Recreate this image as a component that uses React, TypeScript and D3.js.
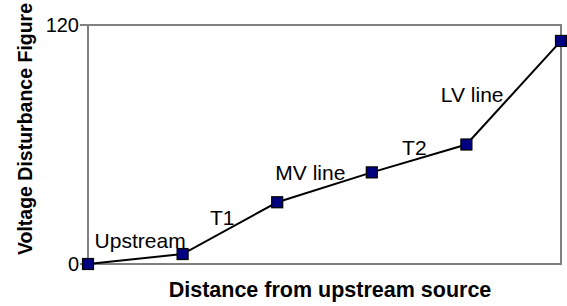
import React from "react";
import * as d3 from "d3";

const categories = ["Source", "Upstream end", "T1 end", "MV end", "T2 end", "LV end"];
const values = [0, 5, 31, 46, 60, 112];
const yTicks = [0, 120];
const segmentLabels = ["Upstream", "T1", "MV line", "T2", "LV line"];
const labelX = [0.07, 1.29, 1.98, 3.32, 3.73];
const labelY = [8, 19.6, 42.2, 54.7, 81.3];

const W = 567;
const H = 306;
const M = { left: 88, right: 6, top: 25, bottom: 42 };

export default function App() {
  const x = d3
    .scaleLinear()
    .domain([0, categories.length - 1])
    .range([M.left, W - M.right]);
  const y = d3.scaleLinear().domain([0, 120]).range([H - M.bottom, M.top]);
  const line = d3
    .line<number>()
    .x((_, i) => x(i))
    .y((d) => y(d));
  const font = "Arial, 'Liberation Sans', sans-serif";
  const sq = 11;
  return (
    <svg
      width={W}
      height={H}
      style={{ position: "absolute", left: 0, top: 0, background: "#fff" }}
      fontFamily={font}
    >
      <rect
        x={x(0)}
        y={y(120)}
        width={x(categories.length - 1) - x(0)}
        height={y(0) - y(120)}
        fill="none"
        stroke="#808080"
        strokeWidth={2}
      />
      {yTicks.map((t) => (
        <g key={t}>
          <line x1={x(0) - 8} x2={x(0)} y1={y(t)} y2={y(t)} stroke="#808080" strokeWidth={2} />
          <text x={x(0) - 9} y={y(t)} dy="0.36em" textAnchor="end" fontSize={20} fill="#000">
            {t}
          </text>
        </g>
      ))}
      <path d={line(values) || ""} fill="none" stroke="#000" strokeWidth={2} />
      {segmentLabels.map((s, i) => (
        <text key={s} x={x(labelX[i])} y={y(labelY[i])} fontSize={21} fill="#000">
          {s}
        </text>
      ))}
      {values.map((v, i) => (
        <rect
          key={i}
          x={x(i) - sq / 2}
          y={y(v) - sq / 2}
          width={sq}
          height={sq}
          fill="#000080"
          stroke="#000"
          strokeWidth={1.2}
        />
      ))}
      <text x={330} y={297} textAnchor="middle" fontSize={21.5} fontWeight="bold">
        Distance from upstream source
      </text>
      <text
        transform={`translate(32,129) rotate(-90)`}
        textAnchor="middle"
        fontSize={19.5}
        fontWeight="bold"
      >
        Voltage Disturbance Figure
      </text>
    </svg>
  );
}
